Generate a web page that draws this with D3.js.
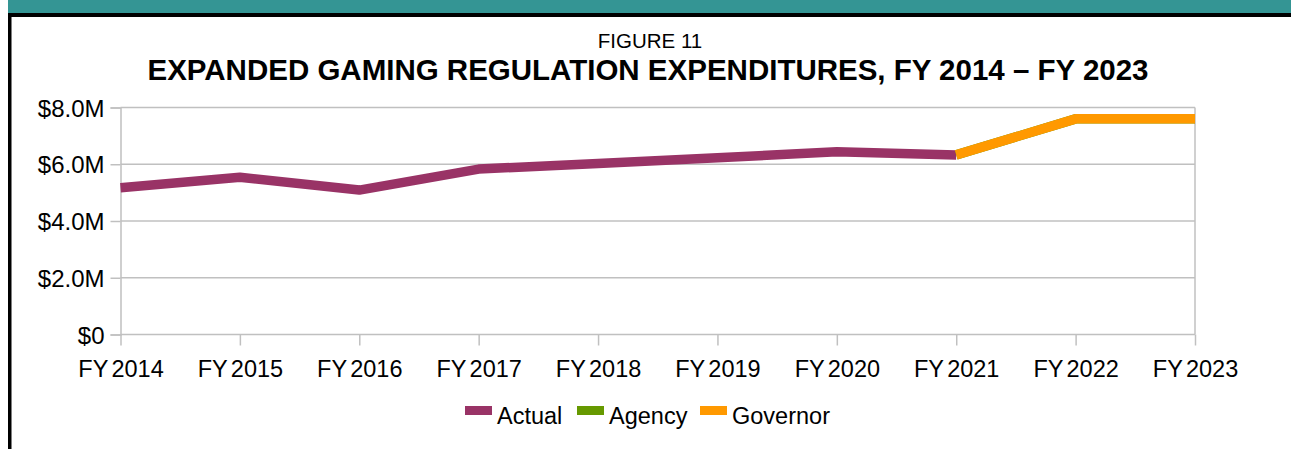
<!DOCTYPE html>
<html>
<head>
<meta charset="utf-8">
<script src="https://cdn.jsdelivr.net/npm/d3@7"></script>
<style>
  html, body { margin: 0; padding: 0; background: #fff; }
  svg { display: block; font-family: "Liberation Sans", Arial, sans-serif; }
</style>
</head>
<body>
<svg id="chart" width="1291" height="449"></svg>
<script>
// Expanded gaming regulation expenditures, FY 2014 - FY 2023 (millions)
const years = ["FY 2014", "FY 2015", "FY 2016", "FY 2017", "FY 2018",
               "FY 2019", "FY 2020", "FY 2021", "FY 2022", "FY 2023"];
const actual = [5.17, 5.54, 5.09, 5.83, 6.03, 6.23, 6.44, 6.33];
const agencyYears = ["FY 2021", "FY 2022", "FY 2023"];
const agency = [6.33, 7.6, 7.6];
const governorYears = ["FY 2021", "FY 2022", "FY 2023"];
const governor = [6.33, 7.6, 7.6];
const yTicks = [0, 2, 4, 6, 8];

const seriesNames = ["Actual", "Agency", "Governor"];
const seriesColors = ["#993366", "#669900", "#ff9900"];

const width = 1291, height = 449;
const margin = { top: 107.5, right: 96, bottom: 114.5, left: 120.5 };
const innerWidth = width - margin.left - margin.right;
const innerHeight = height - margin.top - margin.bottom;

const svg = d3.select("#chart");

// page frame: teal band, black rule, left border
svg.append("rect").attr("x", 8).attr("y", 0).attr("width", width - 8).attr("height", 13.5).attr("fill", "#349594");
svg.append("rect").attr("x", 8).attr("y", 13).attr("width", width - 8).attr("height", 4).attr("fill", "#000");
svg.append("rect").attr("x", 8).attr("y", 13).attr("width", 3.5).attr("height", height - 13).attr("fill", "#000");

svg.append("text")
  .attr("x", 650).attr("y", 48)
  .attr("text-anchor", "middle")
  .attr("font-size", 20.5)
  .text("FIGURE 11");

svg.append("text")
  .attr("x", 648).attr("y", 80)
  .attr("text-anchor", "middle")
  .attr("font-size", 29.5).attr("font-weight", "bold")
  .text("EXPANDED GAMING REGULATION EXPENDITURES, FY 2014 \u2013 FY 2023");

const xScale = d3.scalePoint().domain(years).range([0, innerWidth]);
const yScale = d3.scaleLinear().domain([0, 8]).range([innerHeight, 0]);

const inner = svg.append("g")
  .attr("transform", `translate(${margin.left}, ${margin.top})`);

const gridColor = "#c0c0c0";

// left axis with short ticks
const yAxis = inner.append("g")
  .call(d3.axisLeft(yScale).tickValues(yTicks).tickSize(10).tickPadding(6)
    .tickFormat(d => d === 0 ? "$0" : "$" + d3.format(".1f")(d) + "M"))
  .attr("font-size", null).attr("font-family", null);
yAxis.select(".domain").attr("stroke", gridColor).attr("stroke-width", 1.5);
yAxis.selectAll(".tick line").attr("stroke", gridColor).attr("stroke-width", 1.5);
yAxis.selectAll(".tick text").attr("font-size", 24).attr("fill", "#000").attr("dy", "0.36em");

// horizontal gridlines
inner.append("g").selectAll("line")
  .data(yTicks).join("line")
  .attr("x1", 0).attr("x2", innerWidth)
  .attr("y1", d => yScale(d)).attr("y2", d => yScale(d))
  .attr("stroke", gridColor).attr("stroke-width", 1.5);

// right border of plot area
inner.append("line")
  .attr("x1", innerWidth).attr("x2", innerWidth)
  .attr("y1", 0).attr("y2", innerHeight)
  .attr("stroke", gridColor).attr("stroke-width", 1.5);

const xAxis = inner.append("g")
  .attr("transform", `translate(0, ${innerHeight})`)
  .call(d3.axisBottom(xScale).tickSize(11).tickPadding(15))
  .attr("font-size", null).attr("font-family", null);
xAxis.select(".domain").remove();
xAxis.selectAll(".tick line").attr("stroke", gridColor).attr("stroke-width", 1.5);
xAxis.selectAll(".tick text").attr("font-size", 23.5).attr("fill", "#000")
  .attr("word-spacing", "-3px");

const line = d3.line().x(d => xScale(d[0])).y(d => yScale(d[1]));

const seriesData = [
  years.slice(0, actual.length).map((y, i) => [y, actual[i]]),
  agencyYears.map((y, i) => [y, agency[i]]),
  governorYears.map((y, i) => [y, governor[i]])
];

inner.append("g").selectAll("path")
  .data(seriesData).join("path")
  .attr("d", line)
  .attr("fill", "none")
  .attr("stroke", (d, i) => seriesColors[i])
  .attr("stroke-width", 9.5)
  .attr("stroke-linejoin", "round");

// legend
const legendX = [465, 577, 700];
const legend = svg.append("g").selectAll("g")
  .data(seriesNames).join("g")
  .attr("transform", (d, i) => `translate(${legendX[i]}, 406)`);
legend.append("rect")
  .attr("width", 27).attr("height", 9)
  .attr("fill", (d, i) => seriesColors[i]);
legend.append("text")
  .attr("x", 32).attr("y", 17.5)
  .attr("font-size", 23.5)
  .text(d => d);
</script>
</body>
</html>
